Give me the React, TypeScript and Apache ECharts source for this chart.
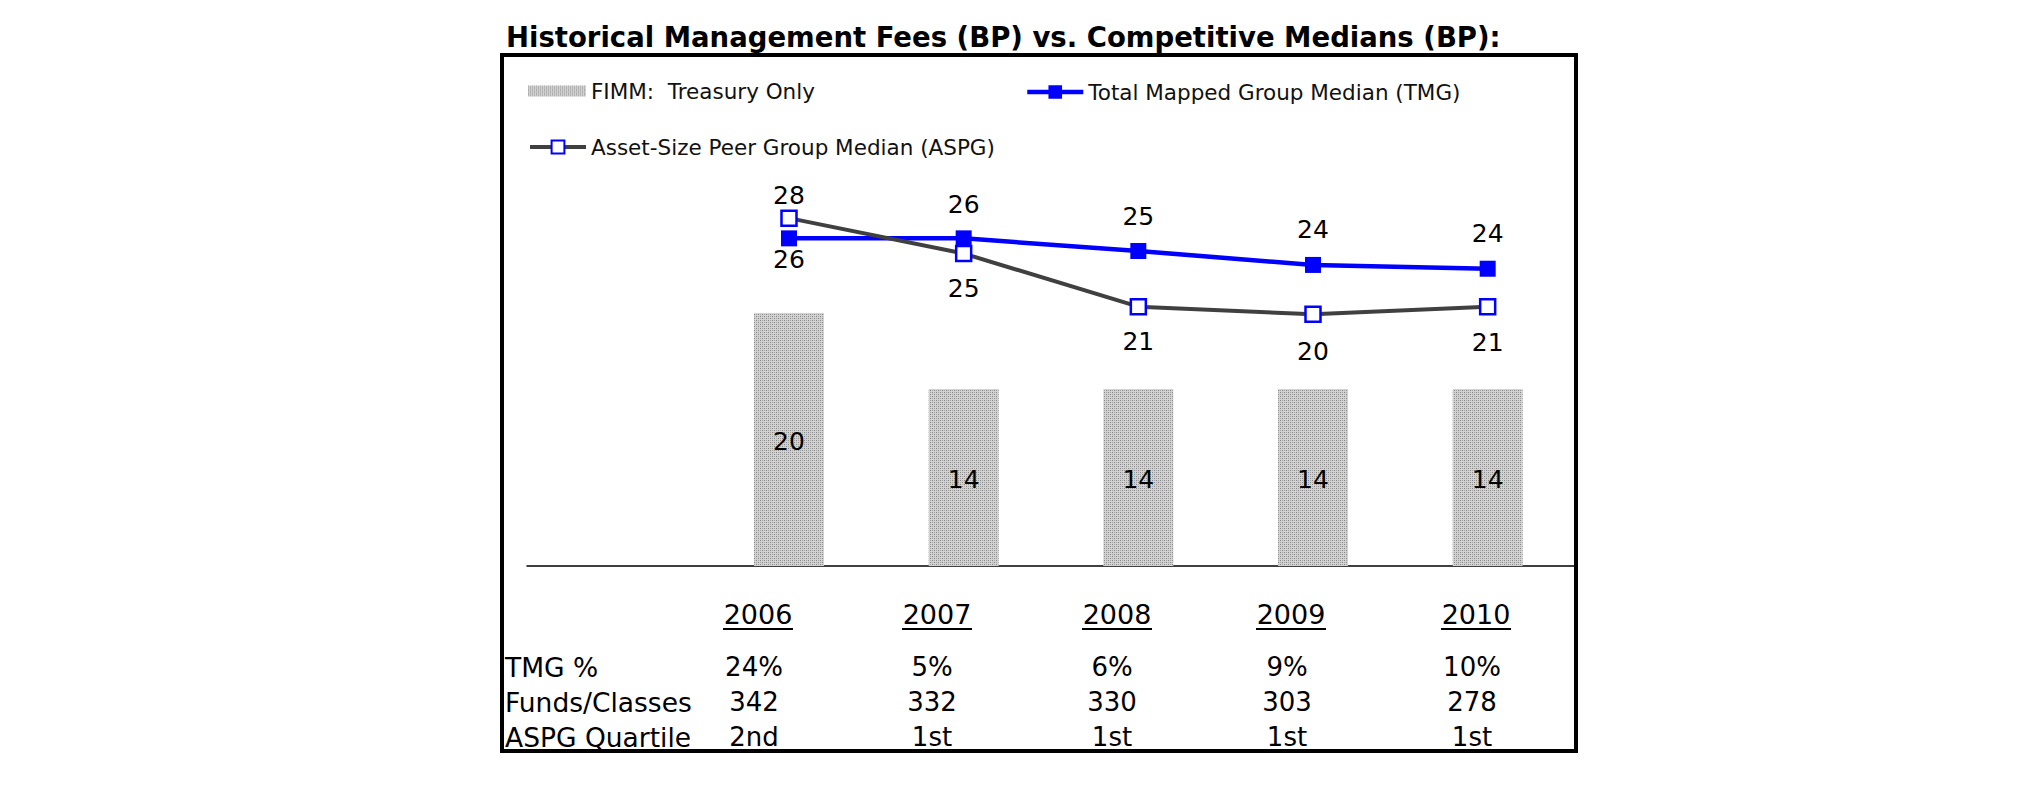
import React, { useEffect, useRef } from "react";
import * as echarts from "echarts";

// ---- data ----
const years = ["2006", "2007", "2008", "2009", "2010"];
const categories = ["", ...years];
const fimmFees = [20, 14, 14, 14, 14];
const tmgMedian = [25.9, 25.9, 24.9, 23.8, 23.5];
const aspgMedian = [27.5, 24.7, 20.5, 19.9, 20.5];
const tmgPct = ["24%", "5%", "6%", "9%", "10%"];
const fundsClasses = ["342", "332", "330", "303", "278"];
const aspgQuartile = ["2nd", "1st", "1st", "1st", "1st"];
const rowLabels = ["TMG %", "Funds/Classes", "ASPG Quartile"];
const seriesNames = [
  "FIMM:  Treasury Only",
  "Total Mapped Group Median (TMG)",
  "Asset-Size Peer Group Median (ASPG)",
];
const titleText = "Historical Management Fees (BP) vs. Competitive Medians (BP):";

// ---- layout (not data) ----
const tmgLabelDy = [21, -34, -35, -35, -35];
const aspgLabelDy = [-23, 35, 35, 37, 36];
const headerX = [758, 937, 1117, 1291, 1476];
const valueX = [754, 932, 1112, 1287, 1472];
const rowY = [667, 702, 737];
const FONT = "DejaVu Sans";

function makePattern(): HTMLCanvasElement {
  const c = document.createElement("canvas");
  c.width = 4;
  c.height = 4;
  const ctx = c.getContext("2d")!;
  ctx.fillStyle = "#d2d2d2";
  ctx.fillRect(0, 0, 4, 4);
  ctx.fillStyle = "#858585";
  ctx.fillRect(0, 0, 1, 1);
  ctx.fillRect(2, 2, 1, 1);
  ctx.fillStyle = "#a6a6a6";
  ctx.fillRect(2, 0, 1, 1);
  ctx.fillRect(0, 2, 1, 1);
  return c;
}

export default function App() {
  const ref = useRef<HTMLDivElement>(null);
  useEffect(() => {
    if (!ref.current) return;
    const chart = echarts.init(ref.current, undefined, { renderer: "svg" });
    const pattern = { image: makePattern(), repeat: "repeat" };

    const graphics: any[] = [
      {
        type: "rect",
        shape: { x: 502, y: 55, width: 1074, height: 696 },
        style: { fill: "none", stroke: "#000", lineWidth: 4 },
        z: 10,
      },
    ];
    years.forEach((y, i) => {
      graphics.push({
        type: "text",
        x: headerX[i],
        y: 614,
        style: {
          text: y,
          font: `27px "${FONT}"`,
          fill: "#000",
          textAlign: "center",
          textVerticalAlign: "middle",
        },
      });
      graphics.push({
        type: "line",
        shape: { x1: headerX[i] - 35, y1: 629, x2: headerX[i] + 35, y2: 629 },
        style: { stroke: "#000", lineWidth: 2 },
      });
    });
    const rows = [tmgPct, fundsClasses, aspgQuartile];
    rowLabels.forEach((lab, r) => {
      graphics.push({
        type: "text",
        x: 505,
        y: rowY[r],
        style: {
          text: lab,
          font: `26.5px "${FONT}"`,
          fill: "#000",
          textAlign: "left",
          textVerticalAlign: "middle",
        },
      });
      rows[r].forEach((v, i) => {
        graphics.push({
          type: "text",
          x: valueX[i],
          y: rowY[r],
          style: {
            text: v,
            font: `26px "${FONT}"`,
            fill: "#000",
            textAlign: "center",
            textVerticalAlign: "middle",
          },
        });
      });
    });

    const legendText = { fontFamily: FONT, fontSize: 21.5, color: "#111" };

    chart.setOption({
      animation: false,
      title: {
        text: titleText,
        left: 506,
        top: 23,
        padding: 0,
        textStyle: { fontFamily: FONT, fontSize: 27.5, fontWeight: "bold", color: "#000" },
      },
      legend: [
        {
          data: [{ name: seriesNames[0], icon: "rect" }],
          left: 528,
          top: 80,
          padding: 0,
          itemWidth: 58,
          itemHeight: 11,
          textStyle: legendText,
        },
        {
          data: [seriesNames[1]],
          left: 1025,
          top: 81,
          padding: 0,
          itemWidth: 56,
          itemHeight: 17,
          lineStyle: { width: 4.5 },
          textStyle: legendText,
        },
        {
          data: [seriesNames[2]],
          left: 528,
          top: 136,
          padding: 0,
          itemWidth: 56,
          itemHeight: 16,
          lineStyle: { width: 4 },
          textStyle: legendText,
        },
      ],
      grid: { left: 527, top: 60, width: 1048, height: 506, containLabel: false },
      xAxis: {
        type: "category",
        data: categories,
        axisLine: { lineStyle: { color: "#000", width: 1.5 } },
        axisTick: { show: false },
        axisLabel: { show: false },
        splitLine: { show: false },
      },
      yAxis: {
        type: "value",
        min: 0,
        max: 40,
        show: false,
        splitLine: { show: false },
      },
      series: [
        {
          name: seriesNames[0],
          type: "bar",
          data: ["-", ...fimmFees],
          barWidth: 70,
          itemStyle: { color: pattern },
          label: {
            show: true,
            position: "inside",
            offset: [0, 2],
            fontFamily: FONT,
            fontSize: 25,
            color: "#000",
          },
        },
        {
          name: seriesNames[1],
          type: "line",
          data: ["-", ...tmgMedian.map((v, i) => ({
            value: v,
            label: { offset: [0, tmgLabelDy[i]] },
          }))],
          symbol: "rect",
          symbolSize: 16,
          itemStyle: { color: "#0000ff" },
          lineStyle: { color: "#0000ff", width: 4.5 },
          label: {
            show: true,
            position: "inside",
            fontFamily: FONT,
            fontSize: 25,
            color: "#000",
            formatter: (p: any) => String(Math.round(p.value)),
          },
          z: 3,
        },
        {
          name: seriesNames[2],
          type: "line",
          data: ["-", ...aspgMedian.map((v, i) => ({
            value: v,
            label: { offset: [0, aspgLabelDy[i]] },
          }))],
          symbol: "rect",
          symbolSize: 15,
          itemStyle: { color: "#ffffff", borderColor: "#0000ff", borderWidth: 2.5 },
          lineStyle: { color: "#404040", width: 4 },
          label: {
            show: true,
            position: "inside",
            fontFamily: FONT,
            fontSize: 25,
            color: "#000",
            formatter: (p: any) => String(Math.round(p.value)),
          },
          z: 4,
        },
      ],
      graphic: graphics,
    });
    return () => chart.dispose();
  }, []);
  return (
    <div
      ref={ref}
      style={{ position: "absolute", left: 0, top: 0, width: 2025, height: 806, background: "#fff" }}
    />
  );
}
